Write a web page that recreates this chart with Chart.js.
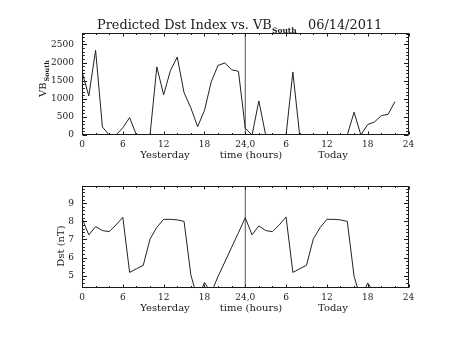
<!DOCTYPE html>
<html><head><meta charset="utf-8">
<script src="https://cdn.jsdelivr.net/npm/chart.js@4/dist/chart.umd.min.js"></script>
<style>
html,body{margin:0;padding:0;background:#fff;}
#wrap{position:relative;width:453px;height:340px;background:#fff;}
.c{position:absolute;left:0;width:453px;height:170px;}
</style></head><body>
<div id="wrap">
<div class="c" style="top:0"><canvas id="topc" width="453" height="170"></canvas></div>
<div class="c" style="top:170px"><canvas id="botc" width="453" height="170"></canvas></div>
</div>
<script>
// ---- data ----
const vbHours = [0,1,2,3,4,5,6,7,8,9,10,11,12,13,14,15,16,17,18,19,20,21,22,23,24,25,26,27,28,29,30,31,32,33,34,35,36,37,38,39,40,41,42,43,44,45,46];
const vbSouth = [1750,1080,2340,220,0,0,200,480,0,0,0,1880,1110,1780,2150,1170,750,230,675,1470,1920,1990,1800,1760,190,0,940,0,0,0,0,1740,0,0,0,0,0,0,0,0,630,0,290,360,535,570,920];
const dstHours = [0,1,2,3,4,5,6,7,8,9,10,11,12,13,14,15,16,17,18,19,20,21,22,23,24,25,26,27,28,29,30,31,32,33,34,35,36,37,38,39,40,41,42,43];
const dstValues = [8.17,7.25,7.71,7.49,7.43,7.8,8.22,5.18,5.38,5.57,7.02,7.67,8.11,8.11,8.08,8.0,5.05,3.7,4.63,4.05,4.96,5.76,6.57,7.37,8.2,7.25,7.75,7.49,7.43,7.8,8.24,5.18,5.38,5.57,7.02,7.65,8.11,8.11,8.08,8.0,4.96,3.7,4.6,4.05];
const xTickValues = [0,6,12,18,24,30,36,42,48];
const xTickLabels = ['0','6','12','18','24,0','6','12','18','24'];
const vbTickValues = [0,500,1000,1500,2000,2500];
const dstTickValues = [5,6,7,8,9];
const xSubLabels = ['Yesterday','time (hours)','Today'];
const titleMain = 'Predicted Dst Index vs. VB';
const titleSub = 'South';
const titleDate = '06/14/2011';
const vbAxisMain = 'VB';
const vbAxisSub = 'South';
const dstAxisLabel = 'Dst (nT)';
const dayBoundary = 24;

// ---- helpers ----
const INK = '#1a1a1a';
const SERIF = 'DejaVu Serif';

const idlAxes = {
  id: 'idlAxes',
  afterDatasetsDraw(chart, args, o) {
    const {ctx, chartArea: a} = chart;
    const x = chart.scales.x, y = chart.scales.y;
    ctx.save();
    ctx.strokeStyle = INK; ctx.lineWidth = 1;
    const L = Math.round(a.left) + 0.5, R = Math.round(a.right) - 0.5;
    const T = Math.round(a.top) + 0.5, B = Math.round(a.bottom) - 0.5;
    ctx.strokeRect(L, T, R - L, B - T);
    ctx.beginPath();
    for (let v = x.min; v <= x.max + 1e-9; v += o.xMinor) {
      const px = Math.round(x.getPixelForValue(v)) + 0.5;
      const major = Math.abs(v / o.xMajor - Math.round(v / o.xMajor)) < 1e-6;
      const len = major ? o.xMajorLen : o.xMinorLen;
      ctx.moveTo(px, B); ctx.lineTo(px, B - len);
      ctx.moveTo(px, T); ctx.lineTo(px, T + len);
    }
    const start = Math.ceil(y.min / o.yMinor - 1e-6) * o.yMinor;
    for (let v = start; v <= y.max + 1e-9; v += o.yMinor) {
      const py = Math.round(y.getPixelForValue(v)) + 0.5;
      const major = Math.abs(v / o.yMajor - Math.round(v / o.yMajor)) < 1e-6;
      const len = major ? o.yMajorLen : o.yMinorLen;
      ctx.moveTo(L, py); ctx.lineTo(L + len, py);
      ctx.moveTo(R, py); ctx.lineTo(R - len, py);
    }
    ctx.stroke();
    ctx.restore();
  }
};

function drawSubLabels(chart, baseline) {
  const {ctx} = chart; const x = chart.scales.x;
  const pos = [12.2, 24.85, 36.9];
  ctx.save();
  ctx.fillStyle = INK; ctx.font = '10px "' + SERIF + '"';
  ctx.textAlign = 'center'; ctx.textBaseline = 'alphabetic';
  xSubLabels.forEach((t, i) => ctx.fillText(t, x.getPixelForValue(pos[i]), baseline));
  ctx.restore();
}

const topText = {
  id: 'topText',
  afterDraw(chart) {
    const {ctx} = chart;
    ctx.save();
    ctx.fillStyle = INK; ctx.textBaseline = 'alphabetic'; ctx.textAlign = 'left';
    // title
    ctx.font = '12px "' + SERIF + '"';
    const w = ctx.measureText(titleMain).width;
    const fs = 12 * 175 / w;
    ctx.font = fs.toFixed(2) + 'px "' + SERIF + '"';
    ctx.fillText(titleMain, 97, 28.7);
    ctx.font = 'bold 7.5px "' + SERIF + '"';
    ctx.fillText(titleSub, 272, 33);
    ctx.font = fs.toFixed(2) + 'px "' + SERIF + '"';
    ctx.fillText(titleDate, 308, 28.7);
    // y axis title
    ctx.translate(45.5, 97);
    ctx.rotate(-Math.PI / 2);
    ctx.font = '10px "' + SERIF + '"';
    ctx.fillText(vbAxisMain, 0, 0);
    const w2 = ctx.measureText(vbAxisMain).width;
    ctx.font = 'bold 6.5px "' + SERIF + '"';
    ctx.fillText(vbAxisSub, w2 + 1, 3.2);
    ctx.restore();
    drawSubLabels(chart, 157.5);
  }
};

const botText = {
  id: 'botText',
  afterDraw(chart) {
    const {ctx} = chart;
    ctx.save();
    ctx.fillStyle = INK; ctx.textBaseline = 'alphabetic'; ctx.textAlign = 'center';
    ctx.translate(64, 76);
    ctx.rotate(-Math.PI / 2);
    ctx.font = '10px "' + SERIF + '"';
    ctx.fillText(dstAxisLabel, 0, 0);
    ctx.restore();
    drawSubLabels(chart, 140.5);
  }
};

function makeChart(id, xs, ys, yMin, yMax, yTicks, topPad, xHeight, axOpts, textPlugin) {
  return new Chart(document.getElementById(id), {
    type: 'line',
    data: { datasets: [
      { data: xs.map((h, i) => ({x: h, y: ys[i]})), borderColor: '#222', borderWidth: 1,
        pointRadius: 0, tension: 0, fill: false },
      { data: [{x: dayBoundary, y: yMin}, {x: dayBoundary, y: yMax}], borderColor: '#555',
        borderWidth: 1, pointRadius: 0, fill: false }
    ]},
    options: {
      responsive: false, animation: false, devicePixelRatio: 1,
      layout: {padding: {left: 0, right: 44.5, top: topPad, bottom: 0}},
      plugins: {legend: {display: false}, tooltip: {enabled: false}, title: {display: false},
        idlAxes: axOpts},
      scales: {
        x: {type: 'linear', min: 0, max: 48, grid: {display: false, drawTicks: false}, border: {display: false},
          afterBuildTicks: s => { s.ticks = xTickValues.map(v => ({value: v})); },
          afterFit: s => { s.height = xHeight; },
          ticks: {autoSkip: false, maxRotation: 0, minRotation: 0, padding: 4, color: INK,
            font: {family: SERIF, size: 9}, callback: (v, i) => xTickLabels[i]}},
        y: {type: 'linear', min: yMin, max: yMax, grid: {display: false, drawTicks: false}, border: {display: false},
          afterBuildTicks: s => { s.ticks = yTicks.map(v => ({value: v})); },
          afterFit: s => { s.width = 82; },
          ticks: {padding: 8, color: INK, font: {family: SERIF, size: 9}, callback: v => String(v)}}
      }
    },
    plugins: [idlAxes, textPlugin]
  });
}

makeChart('topc', vbHours, vbSouth, 0, 2816, vbTickValues, 33, 35,
  {xMinor: 2, xMajor: 6, xMajorLen: 3, xMinorLen: 1.5, yMinor: 100, yMajor: 500, yMajorLen: 4.5, yMinorLen: 2.3},
  topText);
makeChart('botc', dstHours, dstValues, 4.32, 9.95, dstTickValues, 16, 52,
  {xMinor: 2, xMajor: 6, xMajorLen: 3, xMinorLen: 1.5, yMinor: 0.2, yMajor: 1, yMajorLen: 4.5, yMinorLen: 2.3},
  botText);
</script>
</body></html>
